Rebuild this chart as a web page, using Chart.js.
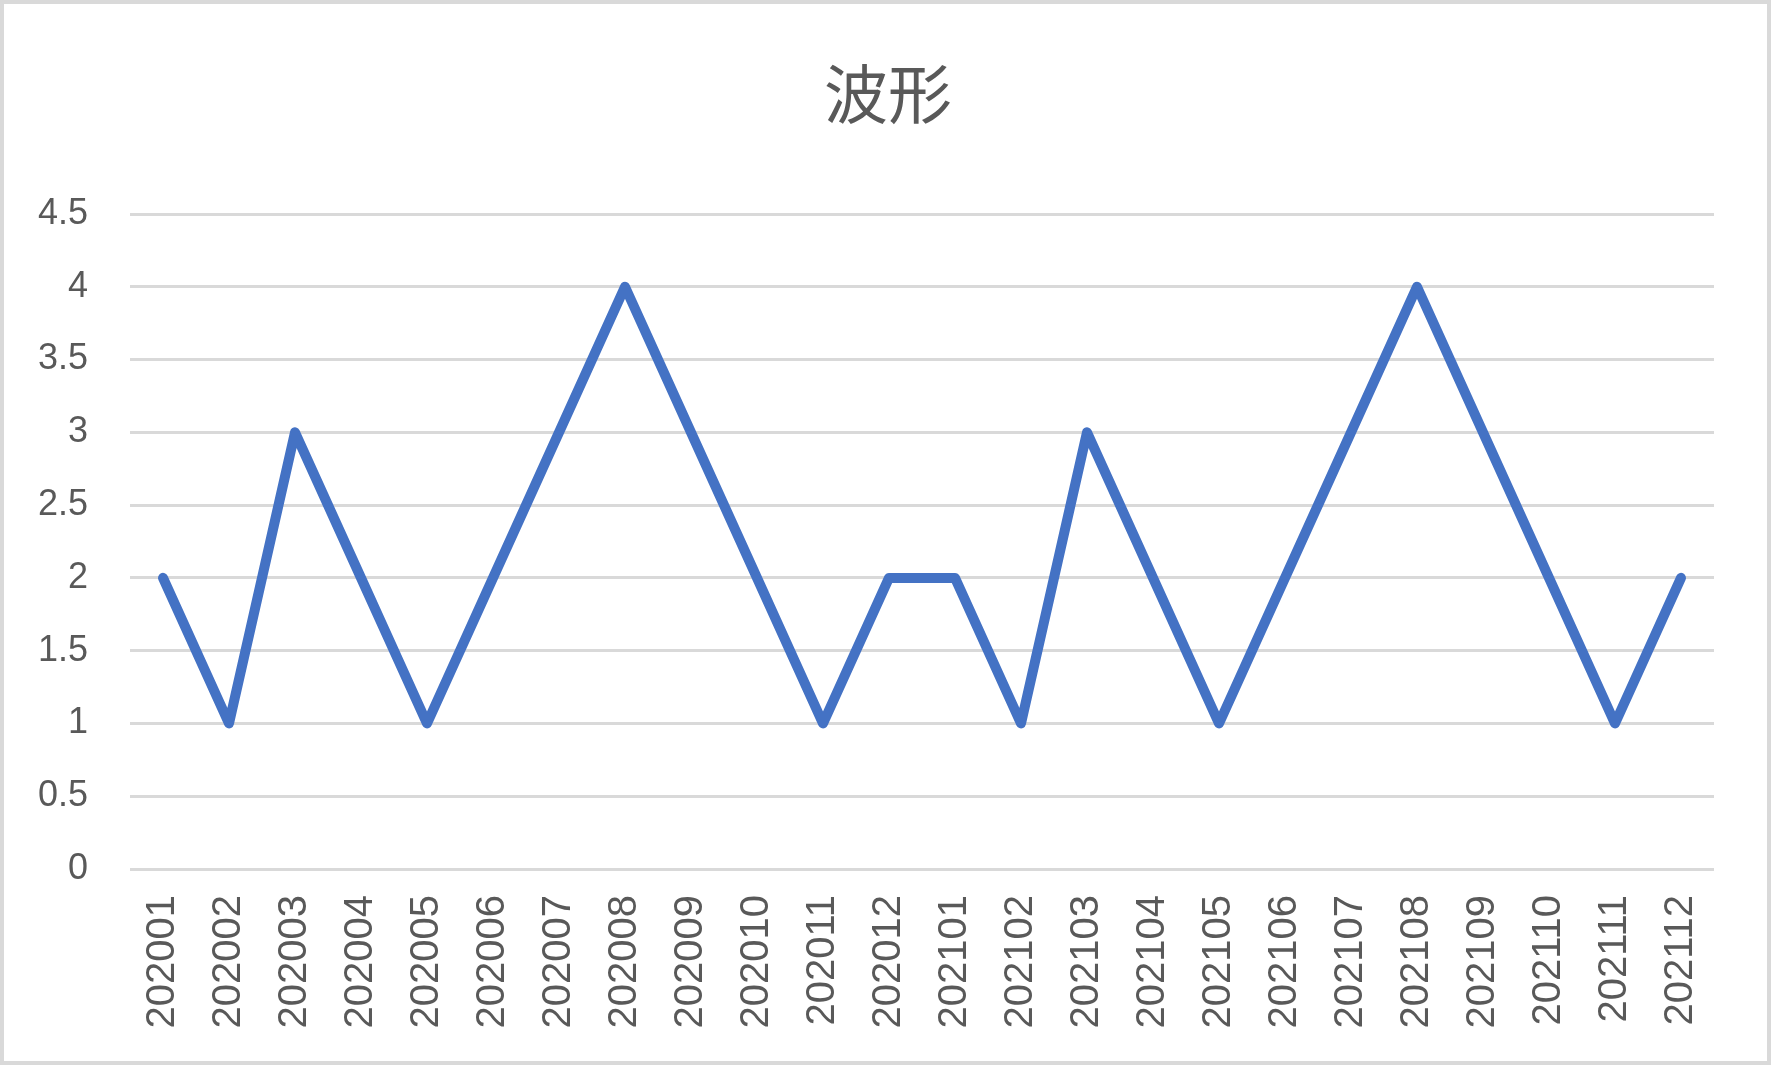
<!DOCTYPE html>
<html>
<head>
<meta charset="utf-8">
<script src="https://cdn.jsdelivr.net/npm/chart.js@4"></script>
<style>
    html, body { margin: 0; padding: 0; background: #fff; }
    #wrap {
        width: 1771px;
        height: 1065px;
        box-sizing: border-box;
        border: 4px solid #d9d9d9;
        background: #fff;
    }
    #waveChart { display: block; }
</style>
</head>
<body>
<div id="wrap"><canvas id="waveChart" width="1763" height="1057"></canvas></div>
<script>
// months on the x axis
const months = [
    '202001', '202002', '202003', '202004', '202005', '202006',
    '202007', '202008', '202009', '202010', '202011', '202012',
    '202101', '202102', '202103', '202104', '202105', '202106',
    '202107', '202108', '202109', '202110', '202111', '202112'
];

// wave values per month
const waveValues = [2, 1, 3, 2, 1, 2, 3, 4, 3, 2, 1, 2, 2, 1, 3, 2, 1, 2, 3, 4, 3, 2, 1, 2];

// y axis range
const yMin = 0;
const yMax = 4.5;
const yStep = 0.5;

const chartTitle = '波形';
const textGray = '#595959';
const gridGray = '#d9d9d9';

// title drawn by hand so it sits where the Excel one does
const titlePlugin = {
    id: 'excelTitle',
    afterDraw(chart) {
        const c = chart.ctx;
        c.save();
        c.fillStyle = textGray;
        c.font = '64px "Noto Sans CJK JP", "Noto Sans", sans-serif';
        c.textAlign = 'center';
        c.textBaseline = 'middle';
        c.fillText(chartTitle, 884, 90);
        c.restore();
    }
};

const ctx = document.getElementById('waveChart').getContext('2d');
new Chart(ctx, {
    type: 'line',
    data: {
        labels: months,
        datasets: [{
            label: chartTitle,
            data: waveValues,
            borderColor: '#4472c4',
            borderWidth: 10,
            borderCapStyle: 'round',
            borderJoinStyle: 'round',
            pointRadius: 0,
            tension: 0,
            fill: false
        }]
    },
    plugins: [titlePlugin],
    options: {
        responsive: false,
        animation: false,
        layout: {
            padding: { left: 0, right: 53, top: 210, bottom: 0 }
        },
        plugins: {
            legend: { display: false },
            tooltip: { enabled: false },
            title: { display: false }
        },
        scales: {
            x: {
                offset: true,
                grid: { display: false, drawTicks: false },
                border: { display: false },
                ticks: {
                    autoSkip: false,
                    minRotation: 90,
                    maxRotation: 90,
                    padding: 26,
                    color: textGray,
                    font: { family: '"Liberation Sans", Arial, sans-serif', size: 40 }
                },
                afterFit: (scale) => { scale.height = 192; }
            },
            y: {
                min: yMin,
                max: yMax,
                grid: { color: gridGray, lineWidth: 3, drawTicks: false },
                border: { display: false },
                ticks: {
                    stepSize: yStep,
                    padding: 42,
                    color: textGray,
                    font: { family: '"Liberation Sans", Arial, sans-serif', size: 36 },
                    callback: (value) => String(value)
                },
                afterFit: (scale) => { scale.width = 126; }
            }
        }
    }
});
</script>
</body>
</html>
